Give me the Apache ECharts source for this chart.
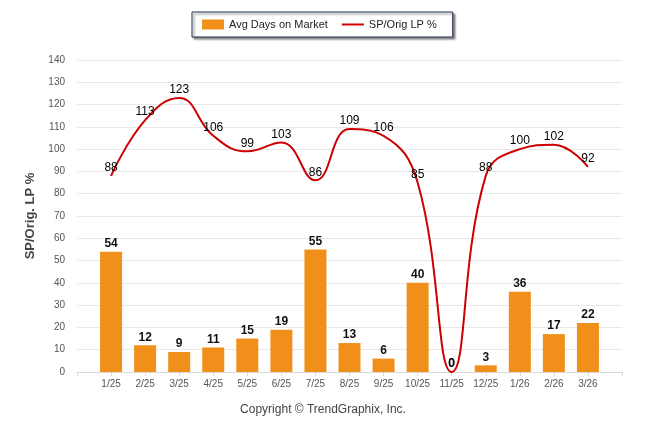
<!DOCTYPE html>
<html><head><meta charset="utf-8">
<script src="https://cdn.jsdelivr.net/npm/echarts@6/dist/echarts.min.js"></script>
<style>html,body{margin:0;padding:0;background:#fff}#c{width:646px;height:434px}</style>
</head><body><div id="c"></div>
<script>
const categories = ['1/25','2/25','3/25','4/25','5/25','6/25','7/25','8/25','9/25','10/25','11/25','12/25','1/26','2/26','3/26'];
const avgDaysOnMarket = [54,12,9,11,15,19,55,13,6,40,0,3,36,17,22];
const spOrigLP = [88,113,123,106,99,103,86,109,106,85,0,88,100,102,92];
const yTicks = {min:0, max:140, interval:10};

const cats = [''].concat(categories, ['']);
const pad = a => [null].concat(a, [null]);
const chart = echarts.init(document.getElementById('c'));
const FONT = '"Liberation Sans", Arial, sans-serif';
chart.setOption({
  animation:false,
  textStyle:{fontFamily:FONT},
  title:{text:'Copyright © TrendGraphix, Inc.', left:'center', top:399,
    textStyle:{fontSize:12, fontWeight:'normal', color:'#444', fontFamily:FONT}},
  legend:{left:192, top:12, padding:[7,16,7,10], itemGap:14, itemWidth:22, itemHeight:10,
    borderColor:'#1f2d4d', borderWidth:1, backgroundColor:'#fff',
    shadowColor:'rgba(0,0,0,0.45)', shadowBlur:2, shadowOffsetX:2, shadowOffsetY:2,
    textStyle:{fontSize:11, color:'#222', fontFamily:FONT},
    data:[{name:'Avg Days on Market', icon:'rect'},
          {name:'SP/Orig LP %', icon:'path://M0,0L22,0L22,2L0,2Z', itemStyle:{color:'#cc0000'}}]},
  grid:{left:77, right:24, top:60, bottom:62},
  xAxis:{type:'category', data:cats, boundaryGap:false,
    axisLine:{lineStyle:{color:'#d8d8d8'}},
    axisTick:{show:true, length:4, lineStyle:{color:'#d8d8d8'}},
    axisLabel:{fontSize:10, color:'#555', margin:7, interval:0},
    splitLine:{show:false}},
  yAxis:{type:'value', min:yTicks.min, max:yTicks.max, interval:yTicks.interval,
    name:'SP/Orig. LP %', nameLocation:'middle', nameGap:34, nameRotate:90,
    nameTextStyle:{fontSize:13, fontWeight:'bold', color:'#444', fontFamily:FONT},
    axisLine:{show:false}, axisTick:{show:false},
    axisLabel:{fontSize:10, color:'#555', margin:12},
    splitLine:{lineStyle:{color:'#e8e8e8'}}},
  series:[
    {name:'Avg Days on Market', type:'bar', data:pad(avgDaysOnMarket), barWidth:22,
     itemStyle:{color:'#f0901a'},
     label:{show:true, position:'top', distance:2, fontSize:12, fontWeight:'bold', color:'#111'}},
    {name:'SP/Orig LP %', type:'line', data:pad(spOrigLP), smooth:0.45, symbol:'none',
     lineStyle:{color:'#cc0000', width:2}, itemStyle:{color:'#cc0000'}, z:3},
    {name:'lineLabels', type:'scatter', data:pad(spOrigLP), symbolSize:0.01,
     itemStyle:{color:'#cc0000', opacity:1}, silent:true, z:4,
     label:{show:true, position:'top', distance:2, fontSize:12, color:'#000', opacity:1,
       formatter:p => p.value}}
  ]
});
</script></body></html>
